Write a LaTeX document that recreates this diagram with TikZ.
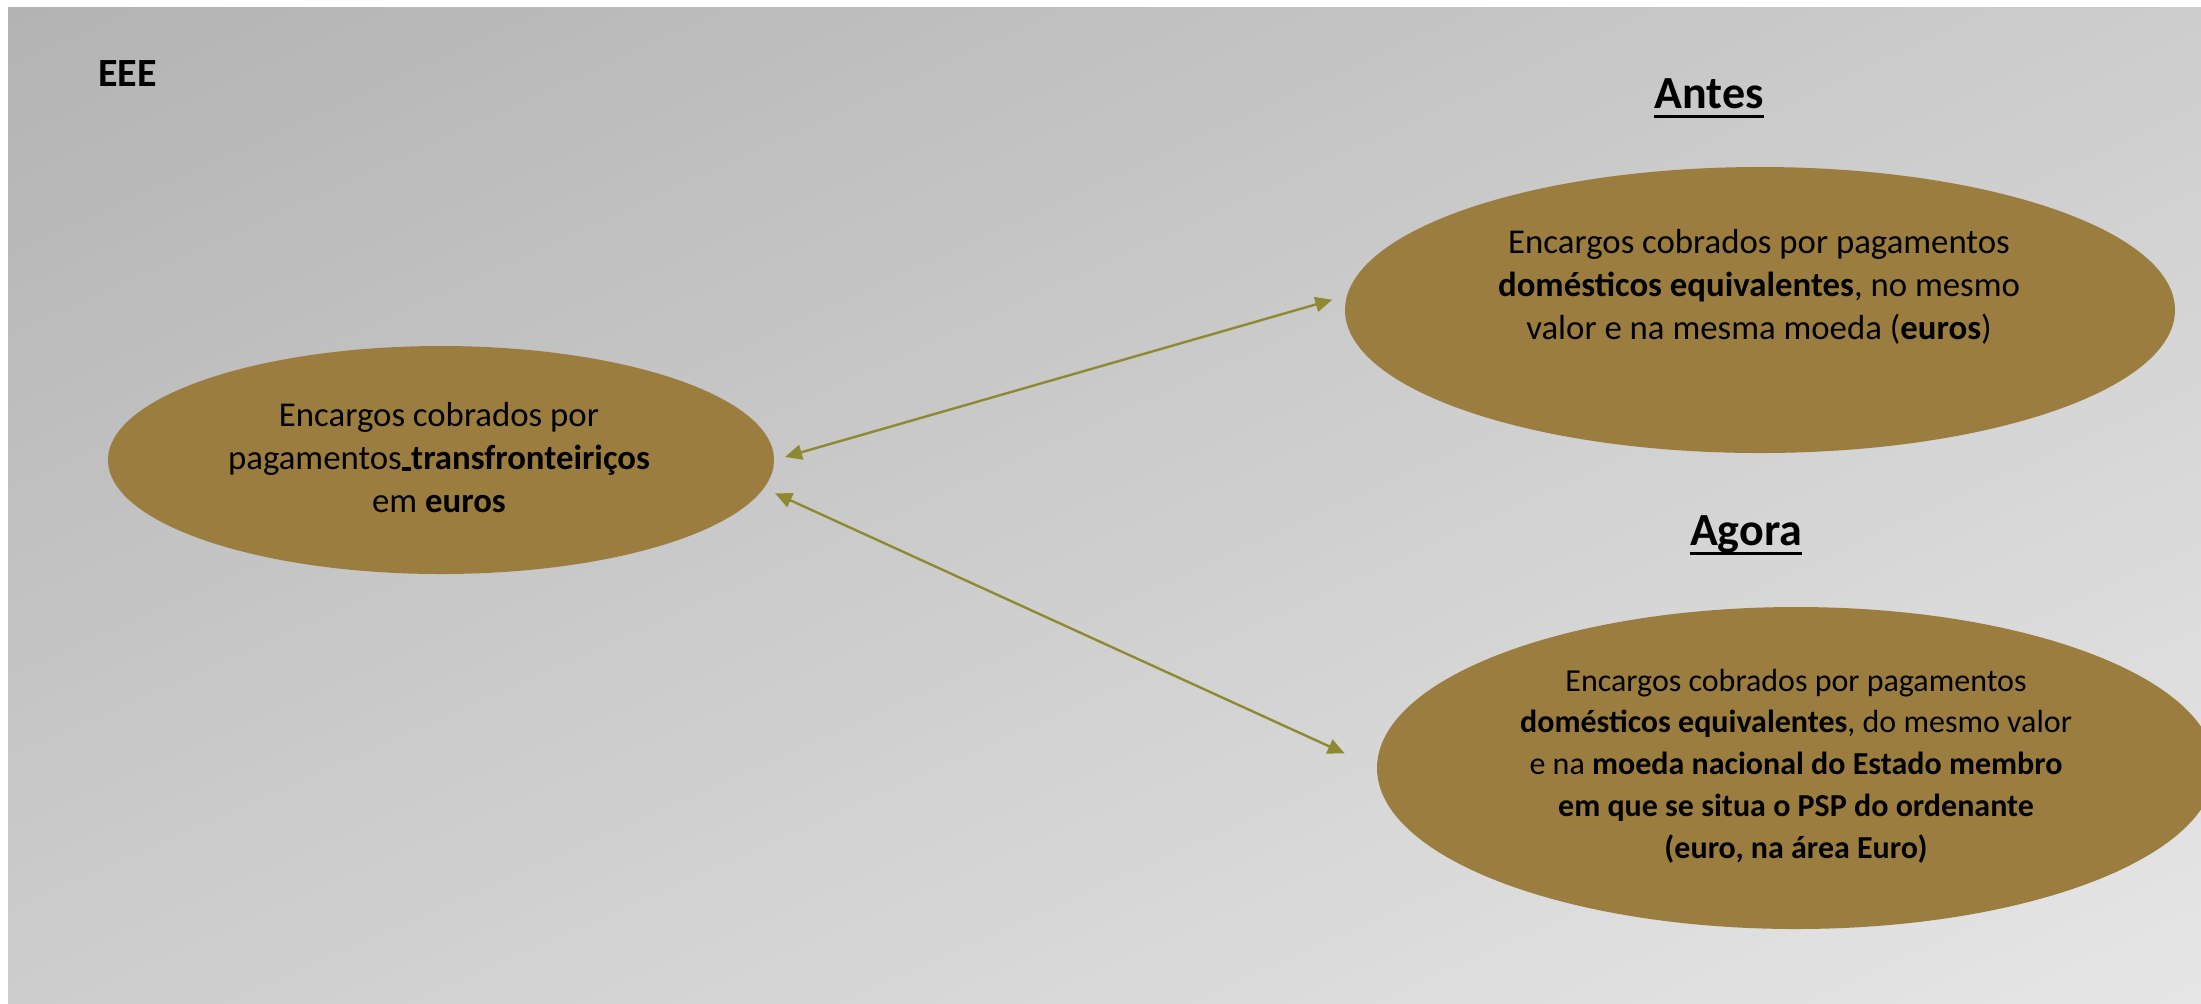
\documentclass[tikz,border=0pt]{standalone}
\usepackage{fontspec}
\setmainfont{Carlito}
\usetikzlibrary{shapes.geometric,arrows.meta,shadings}
\definecolor{ovalc}{RGB}{155,125,64}
\definecolor{arrc}{RGB}{141,138,50}
\definecolor{bgtl}{RGB}{179,179,179}
\definecolor{bgtr}{RGB}{205,205,205}
\definecolor{bgbl}{RGB}{205,205,205}
\definecolor{bgbr}{RGB}{230,230,230}
\begin{document}
\begin{tikzpicture}[x=0.5pt,y=-0.5pt,
  oval/.style={ellipse,fill=ovalc,draw=none,inner sep=0pt},
  body/.style={align=center,font=\fontsize{17.4pt}{21.5pt}\selectfont,text=black,inner sep=0pt},
  smallbody/.style={align=center,font=\fontsize{16pt}{20.9pt}\selectfont,text=black,inner sep=0pt},
  title/.style={font=\fontsize{23pt}{27pt}\selectfont\bfseries,inner sep=0pt,anchor=base},
  link/.style={draw=arrc,line width=1.2pt,{Triangle[length=8.5pt,width=7.5pt]}-{Triangle[length=8.5pt,width=7.5pt]}},
  uline/.style={draw=black,line width=1.5pt}]
\useasboundingbox (0,0) rectangle (2201,1003);
\clip (0,0) rectangle (2201,1003);
\shade[upper left=bgtl,upper right=bgtr,lower left=bgbl,lower right=bgbr] (8,7) rectangle (2201,1003);
% ovals
\node[oval,minimum width=333pt,minimum height=114pt] (L) at (441,460) {};
\node[oval,minimum width=415pt,minimum height=143pt] (T) at (1760,310) {};
\node[oval,minimum width=419pt,minimum height=161pt] (B) at (1796,768) {};
% texts
\node[body] (Ltxt) at (439,458) {Encargos cobrados por\\pagamentos\rule[-0.3pt]{4.7pt}{1.6pt}\textbf{transfronteiriços}\\em \textbf{euros}};
\node[body] (Ttxt) at (1759,287) {Encargos cobrados por pagamentos\\\textbf{domésticos equivalentes}, no mesmo\\valor e na mesma moeda (\textbf{euros})};
\node[smallbody] (Btxt) at (1796,766) {Encargos cobrados por pagamentos\\\textbf{domésticos equivalentes}, do mesmo valor\\e na \textbf{moeda nacional do Estado membro}\\\textbf{em que se situa o PSP do ordenante}\\\textbf{(euro, na área Euro)}};
% titles
\node[font=\fontsize{20pt}{24pt}\selectfont\bfseries,anchor=base west,inner sep=0pt] (eee) at (98,86) {EEE};
\node[title] (antes) at (1709,108) {Antes};
\node[title] (agora) at (1746,545) {Agora};
\draw[uline] ([yshift=-4pt]antes.base west) -- ([yshift=-4pt]antes.base east);
\draw[uline] ([yshift=-4pt]agora.base west) -- ([yshift=-4pt]agora.base east);
% connectors
\draw[link,shorten <=5.5pt,shorten >=7.5pt] (L.east) -- (T.178);
\draw[link,shorten <=6pt,shorten >=17.5pt] (L.355) -- (B.west);
\end{tikzpicture}
\end{document}
